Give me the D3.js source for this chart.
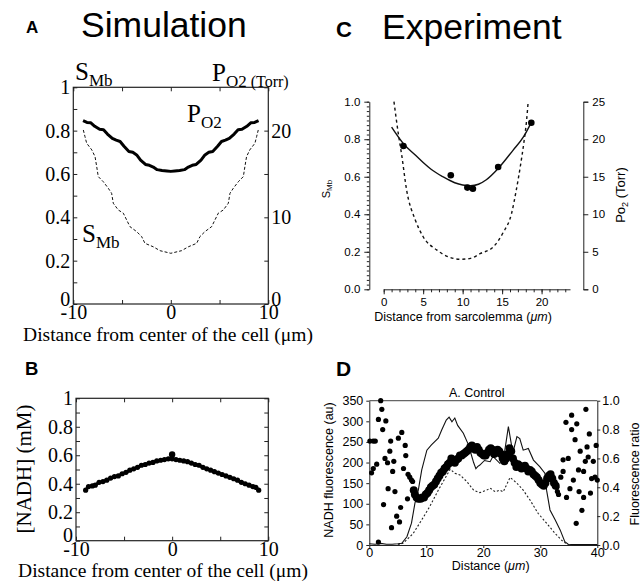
<!DOCTYPE html>
<html><head><meta charset="utf-8">
<script src="https://cdn.jsdelivr.net/npm/d3@7"></script>
<style>
body{margin:0;background:#fff;}
svg{display:block;}
</style></head><body>
<svg id="c" width="643" height="586"></svg>
<script>
// ---------- Panel A (simulation) ----------
const aPX = [-9,-8.6,-8.2,-7.8,-7.3,-6.9,-6.5,-6,-5.6,-5.2,-4.8,-4.3,-3.9,-3.5,-3.1,-2.6,-2.2,-1.8,-1.4,-0.9,-0.4,0,0.4,0.9,1.4,1.8,2.2,2.6,3.1,3.5,3.9,4.3,4.8,5.2,5.6,6,6.5,6.9,7.3,7.8,8.2,8.6,9];
const aPO2 = [21.15,20.95,20.9,20.5,20.15,20.1,19.6,19.1,18.9,18.75,18.2,17.6,17.5,17.2,16.6,16.1,16.0,15.8,15.5,15.4,15.35,15.3,15.35,15.4,15.5,15.8,16.0,16.1,16.6,17.2,17.5,17.6,18.2,18.75,18.9,19.1,19.6,20.1,20.15,20.5,20.9,20.95,21.15];
const aSX = [-8.97,-8.8,-8.63,-8.1,-7.77,-7.6,-7.44,-6.92,-6.41,-6.07,-5.9,-5.39,-4.87,-4.53,-4.19,-3.5,-2.99,-2.65,-1.8,-1.1,0,1.1,1.8,2.65,2.99,3.5,4.19,4.53,4.87,5.39,5.9,6.07,6.41,6.92,7.44,7.6,7.77,8.1,8.63,8.8,8.97];
const aSMb = [0.803,0.772,0.742,0.711,0.68,0.634,0.588,0.564,0.534,0.511,0.465,0.434,0.419,0.388,0.357,0.334,0.311,0.28,0.264,0.246,0.234,0.246,0.264,0.28,0.311,0.334,0.357,0.388,0.419,0.434,0.465,0.511,0.534,0.564,0.588,0.634,0.68,0.711,0.742,0.772,0.803];
const aSTicks = [0,0.1,0.2,0.3,0.4,0.5,0.6,0.7,0.8,0.9,1];
const aSLabels = [0,0.2,0.4,0.6,0.8,1];
const aPTicks = [0,5,10,15,20,25];
const aPLabels = [0,10,20];
const aXTicks = [-10,-5,0,5,10];
const aXLabels = [-10,0,10];

// ---------- Panel B (simulation NADH) ----------
const bX = [-9,-8.7,-8.3,-8,-7.6,-7.2,-6.8,-6.4,-6,-5.6,-5.2,-4.8,-4.4,-4,-3.6,-3.2,-2.8,-2.4,-2,-1.6,-1.2,-0.8,-0.4,0,0.4,0.8,1.2,1.6,2,2.4,2.8,3.2,3.6,4,4.4,4.8,5.2,5.6,6,6.4,6.8,7.2,7.6,8,8.4,8.7,9];
const bNADH = [0.355,0.38,0.385,0.39,0.41,0.415,0.425,0.44,0.45,0.455,0.47,0.48,0.495,0.505,0.515,0.53,0.535,0.545,0.55,0.56,0.565,0.57,0.575,0.575,0.57,0.565,0.56,0.555,0.545,0.535,0.53,0.515,0.505,0.495,0.485,0.475,0.465,0.455,0.445,0.435,0.425,0.41,0.40,0.39,0.38,0.375,0.355];
const bPeakX = [0];
const bPeakY = [0.605];
const bYTicks = [0,0.1,0.2,0.3,0.4,0.5,0.6,0.7,0.8,0.9,1];
const bYLabels = [0,0.2,0.4,0.6,0.8,1];
const bXTicks = [-10,-5,0,5,10];
const bXLabels = [-10,0,10];

// ---------- Panel C (experiment) ----------
const cDotX = [2.5,8.5,10.6,11.3,14.5,18.7];
const cDotP = [19.1,15.2,13.55,13.4,16.3,22.2];
const cFitX = [1,2.5,4,5,6,7.5,9,10,11,12,13,14.5,16.4,17.7,18.7];
const cFitP = [21.6,19.4,17.9,16.9,16.0,15.0,14.2,13.9,13.8,14.0,14.6,16.1,18.55,20.3,22.25];
const cSX = [1.3,1.85,2.3,2.9,4.0,5.0,6.7,8.4,9.7,11,12.2,13.9,15.1,16.2,16.8,17.3,17.8,18.1,18.3];
const cSMb = [1.0,0.83,0.71,0.53,0.37,0.28,0.21,0.17,0.16,0.165,0.19,0.227,0.30,0.405,0.53,0.653,0.796,0.90,1.0];
const cYLabels = [0,0.2,0.4,0.6,0.8,1.0];
const cPLabels = [0,5,10,15,20,25];
const cXLabels = [0,5,10,15,20];

// ---------- Panel D (experiment NADH) ----------
const dLineX = [0,1,2,3,4,5,5.7,6.6,7.4,8.0,8.6,9.2,10.1,10.9,12.1,12.7,13.5,14.0,14.5,15.0,15.5,16.5,17.4,18.0,18.3,18.7,19.0,19.4,20.2,21.2,21.7,22.9,23.5,24.0,24.4,25.0,25.3,25.9,26.4,27.0,27.9,28.8,29.9,30.8,31.1,31.7,32.6,33.5,34.3,34.9,36,38,40];
const dLineV = [3,2,4,2,2,3,4,20,53,101,133,182,230,243,259,279,303,310,299,308,290,271,243,214,200,185,190,194,205,202,215,198,205,250,287,238,230,263,258,230,234,206,190,174,133,85,61,36,8,2,1,1,1];
const dDotLineX = [5,6,7.7,9.2,10.6,12.1,13.3,14.2,15,15.9,17.1,18.3,19.4,20.6,21.2,22.1,22.9,23.5,24.7,25.9,27,28.2,29.6,31.1,32.6,34,35];
const dDotLineV = [0,5,28,61,93,133,162,184,174,170,154,133,127,133,138,129,133,129,164,150,133,109,77,53,28,8,0];
const dScatX = [0.1,0.7,1.05,0.4,0.7,1.3,1.6,2.0,2.2,1.6,2.9,2.35,2.75,3.2,2.5,3.3,3.75,3.6,4.3,4.1,4.5,3.9,4.8,5.3,5.1,5.7,5.5,6.0,6.4,6.3,6.7,6.8,7.1,7.4,7.6,7.7,
  32.9,33.0,33.2,33.6,34.0,34.0,34.5,34.6,34.9,35.2,35.5,35.5,36.1,36.4,35.8,36.3,36.7,37.0,36.8,37.3,37.6,37.6,37.9,38.0,38.2,38.4,38.6,39.0,38.8,39.3,39.6,39.8,40.0];
const dScatR = [0.72,0.72,0.72,0.50,0.53,0.56,0.02,1.0,0.94,0.87,0.86,0.80,0.60,0.57,0.28,0.39,0.72,0.65,0.58,0.51,0.37,0.12,0.20,0.16,0.74,0.78,0.26,0.53,0.62,0.69,0.32,0.49,0.47,0.45,0.44,0.38,
  0.40,0.37,0.35,0.47,0.51,0.59,0.85,0.33,0.60,0.39,0.90,0.80,0.73,0.84,0.45,0.15,0.52,0.65,0.37,0.24,0.33,0.51,0.58,0.94,0.68,0.61,0.77,0.46,0.36,0.58,0.47,0.69,0.45];
const dBandX = [7.8,8.0,8.3,8.6,9.0,9.3,9.6,9.9,10.2,10.5,10.8,11.1,11.4,11.7,12.0,12.3,12.6,12.9,13.2,13.5,13.8,14.1,14.4,14.7,15.0,15.3,15.6,15.9,16.2,16.5,16.8,17.1,17.4,17.7,18.0,18.3,18.6,18.9,19.2,19.5,19.8,20.1,20.4,20.7,21.0,21.3,21.6,21.9,22.2,22.5,22.8,23.1,23.4,23.7,24.0,24.3,24.6,24.9,25.2,25.5,25.8,26.1,26.4,26.7,27.0,27.3,27.6,27.9,28.2,28.5,28.8,29.1,29.4,29.7,30.0,30.3,30.6,30.9,31.2,31.5,31.8,32.1,32.4,32.7];
const dBandR = [0.38,0.35,0.33,0.32,0.32,0.33,0.33,0.35,0.36,0.38,0.40,0.41,0.42,0.44,0.46,0.48,0.50,0.51,0.53,0.54,0.56,0.57,0.60,0.58,0.57,0.59,0.60,0.62,0.62,0.63,0.64,0.65,0.66,0.68,0.69,0.67,0.66,0.68,0.66,0.64,0.63,0.62,0.62,0.64,0.66,0.67,0.66,0.63,0.64,0.66,0.65,0.63,0.60,0.58,0.60,0.63,0.67,0.65,0.60,0.57,0.54,0.56,0.55,0.53,0.54,0.55,0.53,0.51,0.52,0.51,0.49,0.48,0.47,0.45,0.43,0.42,0.41,0.43,0.46,0.48,0.49,0.46,0.43,0.41];
const dYLabels = [0,50,100,150,200,250,300,350];
const dRLabels = [0,0.2,0.4,0.6,0.8,1.0];
const dXLabels = [0,10,20,30,40];

// ================= drawing =================
const svg = d3.select("#c");
svg.append("rect").attr("width",643).attr("height",586).attr("fill","#fff");
const SERIF = "'Liberation Serif','Times New Roman',serif";
const SANS = "'Liberation Sans',Arial,Helvetica,sans-serif";

function sel(labels, fmt){ return d => labels.includes(d) ? fmt(d) : ""; }
function styleAxis(g, fam, size){
  g.attr("font-family", fam).attr("font-size", size);
  g.selectAll("line").attr("stroke","#222");
  g.selectAll("path").attr("stroke","#222");
  g.selectAll("text").attr("fill","#000");
}
function subText(g, x, y, main, sub, size, subSize, after, afterSize, fam){
  const t = g.append("text").attr("x",x).attr("y",y).attr("font-family",fam||SERIF).attr("font-size",size).attr("fill","#000");
  t.append("tspan").text(main);
  t.append("tspan").attr("font-size",subSize).attr("dy",size*0.22).text(sub);
  if (after) t.append("tspan").attr("font-size",afterSize).attr("dy",0).text(after);
  return t;
}

// ---- Panel A ----
{
  const g = svg.append("g");
  const x = d3.scaleLinear().domain([-10,10]).range([73.3,268.3]);
  const yS = d3.scaleLinear().domain([0,1]).range([304,87.3]);
  const yP = d3.scaleLinear().domain([0,25]).range([304,87.3]);
  g.append("rect").attr("x",x(-10)).attr("y",yS(1)).attr("width",x(10)-x(-10)).attr("height",yS(0)-yS(1))
    .attr("fill","none").attr("stroke","#222").attr("stroke-width",1.2);
  const gl = g.append("g").attr("transform",`translate(${x(-10)},0)`)
    .call(d3.axisLeft(yS).tickValues(aSTicks).tickSize(-4).tickPadding(3).tickFormat(sel(aSLabels,String)));
  const gr = g.append("g").attr("transform",`translate(${x(10)},0)`)
    .call(d3.axisRight(yP).tickValues(aPTicks).tickSize(-4).tickPadding(3).tickFormat(sel(aPLabels,String)));
  const gb = g.append("g").attr("transform",`translate(0,${yS(0)})`)
    .call(d3.axisBottom(x).tickValues(aXTicks).tickSize(-4).tickPadding(1).tickFormat(sel(aXLabels,String)));
  const gt = g.append("g").attr("transform",`translate(0,${yS(1)})`)
    .call(d3.axisTop(x).tickValues(aXTicks).tickSize(-4).tickFormat(""));
  [gl,gr,gb,gt].forEach(a => { a.select(".domain").remove(); styleAxis(a, SERIF, 20); });
  gl.selectAll(".tick").filter(d=>d===0).select("text").attr("dy","0.05em");
  gr.selectAll(".tick").filter(d=>d===0).select("text").attr("dy","0.05em");

  const line = d3.line().x(d=>x(d[0])).y(d=>d[1]);
  g.append("path").datum(aSX.map((v,i)=>[v,yS(aSMb[i])])).attr("d",line)
    .attr("fill","none").attr("stroke","#111").attr("stroke-width",1).attr("stroke-dasharray","3,2");
  g.append("path").datum(aPX.map((v,i)=>[v,yP(aPO2[i])])).attr("d",line)
    .attr("fill","none").attr("stroke","#000").attr("stroke-width",3).attr("stroke-linejoin","round");

  subText(g, 75, 80, "S", "Mb", 25, 17);
  subText(g, 212, 81, "P", "O2", 25, 17, " (Torr)", 16);
  subText(g, 187, 122, "P", "O2", 25, 17);
  subText(g, 82, 242, "S", "Mb", 25, 17);
  g.append("text").attr("x",168).attr("y",340.5).attr("text-anchor","middle")
    .attr("font-family",SERIF).attr("font-size",19.5).text("Distance from center of the cell (\u03bcm)");
  g.append("text").attr("x",26).attr("y",33).attr("font-family",SANS).attr("font-weight","bold").attr("font-size",17).text("A");
  g.append("text").attr("x",81).attr("y",37).attr("font-family",SANS).attr("font-size",35.5).text("Simulation");
}

// ---- Panel B ----
{
  const g = svg.append("g");
  const x = d3.scaleLinear().domain([-10,10]).range([76,268.3]);
  const y = d3.scaleLinear().domain([0,1]).range([540.7,398.3]);
  g.append("rect").attr("x",x(-10)).attr("y",y(1)).attr("width",x(10)-x(-10)).attr("height",y(0)-y(1))
    .attr("fill","none").attr("stroke","#222").attr("stroke-width",1.2);
  const gl = g.append("g").attr("transform",`translate(${x(-10)},0)`)
    .call(d3.axisLeft(y).tickValues(bYTicks).tickSize(-4).tickPadding(3).tickFormat(sel(bYLabels,String)));
  const gr = g.append("g").attr("transform",`translate(${x(10)},0)`)
    .call(d3.axisRight(y).tickValues(bYTicks).tickSize(-4).tickFormat(""));
  const gb = g.append("g").attr("transform",`translate(0,${y(0)})`)
    .call(d3.axisBottom(x).tickValues(bXTicks).tickSize(-4).tickPadding(1).tickFormat(sel(bXLabels,String)));
  const gt = g.append("g").attr("transform",`translate(0,${y(1)})`)
    .call(d3.axisTop(x).tickValues(bXTicks).tickSize(-4).tickFormat(""));
  [gl,gr,gb,gt].forEach(a => { a.select(".domain").remove(); styleAxis(a, SERIF, 20); });
  gl.selectAll(".tick").filter(d=>d===0).select("text").attr("dy","0.05em");

  const pts = bX.map((v,i)=>[x(v),y(bNADH[i])]);
  g.append("path").datum(pts).attr("d",d3.line()).attr("fill","none").attr("stroke","#000").attr("stroke-width",3);
  g.selectAll("circle.b").data(pts).join("circle").attr("cx",d=>d[0]).attr("cy",d=>d[1]).attr("r",2.6).attr("fill","#000");
  const pk = bPeakX.map((v,i)=>[x(v),y(bPeakY[i])]);
  g.append("path").datum([pk[0],[x(0),y(bNADH[23])]]).attr("d",d3.line()).attr("stroke","#000").attr("stroke-width",3);
  g.selectAll("circle.p").data(pk).join("circle").attr("cx",d=>d[0]).attr("cy",d=>d[1]).attr("r",3.2).attr("fill","#000");

  g.append("text").attr("transform","translate(31,469) rotate(-90)").attr("text-anchor","middle")
    .attr("font-family",SERIF).attr("font-size",21).text("[NADH] (mM)");
  g.append("text").attr("x",163).attr("y",577).attr("text-anchor","middle")
    .attr("font-family",SERIF).attr("font-size",19.5).text("Distance from center of the cell (\u03bcm)");
  g.append("text").attr("x",25).attr("y",375).attr("font-family",SANS).attr("font-weight","bold").attr("font-size",18.5).text("B");
}

// ---- Panel C ----
{
  const g = svg.append("g");
  const x = d3.scaleLinear().domain([0,23.6]).range([383.7,570]);
  const yS = d3.scaleLinear().domain([0,1]).range([289.3,101.7]);
  const yP = d3.scaleLinear().domain([0,25]).range([289.3,101.7]);
  const gl2 = g.append("g").attr("transform","translate(369.3,0)")
    .call(d3.axisLeft(yS).tickValues(d3.range(0,1.0001,0.025)).tickSize(2.5).tickFormat(""));
  const gl = g.append("g").attr("transform","translate(369.3,0)")
    .call(d3.axisLeft(yS).tickValues(cYLabels).tickSize(5).tickSizeOuter(0).tickPadding(4).tickFormat(d3.format(".1f")));
  const gb2 = g.append("g").attr("transform",`translate(0,${yS(0)})`)
    .call(d3.axisBottom(x).tickValues(d3.range(0,24,1)).tickSize(3).tickFormat(""));
  const gb = g.append("g").attr("transform",`translate(0,${yS(0)})`)
    .call(d3.axisBottom(x).tickValues(cXLabels).tickSize(5).tickSizeOuter(0).tickPadding(4).tickFormat(String));
  const gr = g.append("g").attr("transform","translate(583.3,0)")
    .call(d3.axisRight(yP).tickValues(cPLabels).tickSize(5).tickSizeOuter(5).tickPadding(4).tickFormat(String));
  gl2.select(".domain").remove(); gb2.select(".domain").remove();
  [gl,gl2,gb,gb2,gr].forEach(a=>styleAxis(a,SANS,11.5));

  const line = d3.line().curve(d3.curveMonotoneX);
  g.append("path").datum(cSX.map((v,i)=>[x(v),yS(cSMb[i])])).attr("d",line)
    .attr("fill","none").attr("stroke","#111").attr("stroke-width",1.4).attr("stroke-dasharray","3,3");
  g.append("path").datum(cFitX.map((v,i)=>[x(v),yP(cFitP[i])])).attr("d",line)
    .attr("fill","none").attr("stroke","#111").attr("stroke-width",1.4);
  g.selectAll("circle").data(cDotX.map((v,i)=>[x(v),yP(cDotP[i])])).join("circle")
    .attr("cx",d=>d[0]).attr("cy",d=>d[1]).attr("r",3.3).attr("fill","#000");

  const tl = g.append("text").attr("transform","translate(330,189) rotate(-90)").attr("text-anchor","middle")
    .attr("font-family",SANS).attr("font-size",11);
  tl.append("tspan").text("S"); tl.append("tspan").attr("font-size",8).attr("dy",2).text("Mb");
  const tr = g.append("text").attr("transform","translate(625,195) rotate(-90)").attr("text-anchor","middle")
    .attr("font-family",SANS).attr("font-size",13);
  tr.append("tspan").text("Po"); tr.append("tspan").attr("font-size",9).attr("dy",3).text("2");
  tr.append("tspan").attr("dy",-3).text(" (Torr)");
  const xl = g.append("text").attr("x",463).attr("y",321).attr("text-anchor","middle").attr("font-family",SANS).attr("font-size",12.5);
  xl.append("tspan").text("Distance from sarcolemma (");
  xl.append("tspan").attr("font-style","italic").text("\u03bcm");
  xl.append("tspan").text(")");
  g.append("text").attr("x",336).attr("y",37).attr("font-family",SANS).attr("font-weight","bold").attr("font-size",22).text("C");
  g.append("text").attr("x",382).attr("y",39).attr("font-family",SANS).attr("font-size",35.5).text("Experiment");
}

// ---- Panel D ----
{
  const g = svg.append("g");
  const x = d3.scaleLinear().domain([0,40]).range([369.3,597.3]);
  const yL = d3.scaleLinear().domain([0,350]).range([545,400.7]);
  const yR = d3.scaleLinear().domain([0,1]).range([545,400.7]);
  g.append("line").attr("x1",x(0)).attr("x2",x(40)).attr("y1",yL(350)).attr("y2",yL(350)).attr("stroke","#666").attr("stroke-width",1.2);
  const gl = g.append("g").attr("transform",`translate(${x(0)},0)`)
    .call(d3.axisLeft(yL).tickValues(dYLabels).tickSize(3).tickSizeOuter(0).tickPadding(3).tickFormat(String));
  const gr = g.append("g").attr("transform",`translate(${x(40)},0)`)
    .call(d3.axisRight(yR).tickValues(dRLabels).tickSize(3).tickSizeOuter(0).tickPadding(2).tickFormat(d3.format(".1f")));
  const gb = g.append("g").attr("transform",`translate(0,${yL(0)})`)
    .call(d3.axisBottom(x).tickValues(dXLabels).tickSize(3).tickSizeOuter(0).tickPadding(0).tickFormat(String));
  [gl,gr,gb].forEach(a=>styleAxis(a,SANS,12.5));

  g.append("path").datum(dDotLineX.map((v,i)=>[x(v),yL(dDotLineV[i])])).attr("d",d3.line())
    .attr("fill","none").attr("stroke","#222").attr("stroke-width",1.1).attr("stroke-dasharray","2,2");
  g.append("path").datum(dLineX.map((v,i)=>[x(v),yL(dLineV[i])])).attr("d",d3.line())
    .attr("fill","none").attr("stroke","#111").attr("stroke-width",1.1);
  g.selectAll("circle.s").data(dScatX.map((v,i)=>[x(v),yR(dScatR[i])])).join("circle")
    .attr("cx",d=>d[0]).attr("cy",d=>d[1]).attr("r",2.6).attr("fill","#000");
  g.selectAll("circle.bd").data(dBandX.map((v,i)=>[x(v),yR(dBandR[i])])).join("circle")
    .attr("cx",d=>d[0]).attr("cy",d=>d[1]).attr("r",4).attr("fill","#000");

  g.append("text").attr("x",476.7).attr("y",397).attr("text-anchor","middle").attr("font-family",SANS).attr("font-size",12.5).text("A. Control");
  const xl = g.append("text").attr("x",490.7).attr("y",570).attr("text-anchor","middle").attr("font-family",SANS).attr("font-size",12.5);
  xl.append("tspan").text("Distance (");
  xl.append("tspan").attr("font-style","italic").text("\u03bcm");
  xl.append("tspan").text(")");
  g.append("text").attr("transform","translate(333,470) rotate(-90)").attr("text-anchor","middle")
    .attr("font-family",SANS).attr("font-size",12.5).text("NADH fluorescence (au)");
  g.append("text").attr("transform","translate(639,474) rotate(-90)").attr("text-anchor","middle")
    .attr("font-family",SANS).attr("font-size",12.5).text("Fluorescence ratio");
  g.append("text").attr("x",336).attr("y",376).attr("font-family",SANS).attr("font-weight","bold").attr("font-size",21).text("D");
}
</script>
</body></html>
